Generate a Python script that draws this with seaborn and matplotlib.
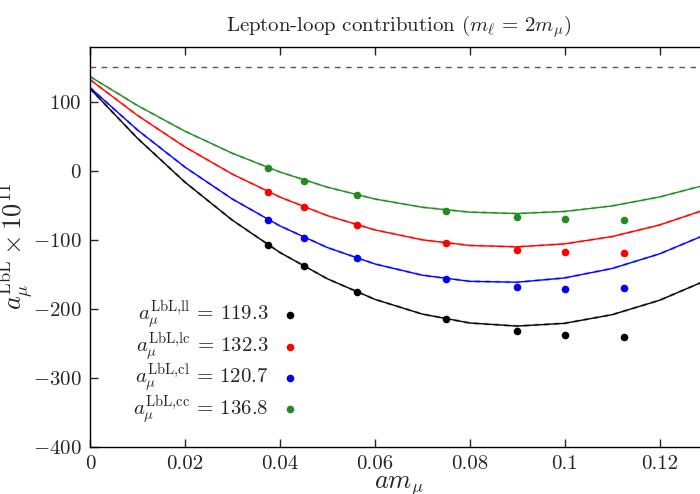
import numpy as np
import pandas as pd
import seaborn as sns
import matplotlib.pyplot as plt

# lattice points (am_mu) and measured a_mu values per kernel
am_points = [0.0375, 0.045, 0.05625, 0.075, 0.09, 0.10, 0.1125]
a_ll = [-107.3, -138.3, -176.0, -215.2, -232.1, -237.9, -240.4]
a_lc = [-30.5, -52.7, -78.3, -104.9, -115.0, -117.9, -118.5]
a_cl = [-71.1, -96.8, -126.7, -156.7, -167.9, -170.7, -170.2]
a_cc = [4.4, -14.1, -35.2, -57.6, -67.2, -70.1, -71.5]

# continuum-extrapolation curves
am_curve = [0.0, 0.01, 0.02, 0.03, 0.04, 0.05, 0.06, 0.07, 0.08, 0.09, 0.10, 0.11, 0.12, 0.13]
fit_ll = [119.3, 47.2, -16.4, -71.6, -118.3, -156.5, -186.3, -207.7, -220.6, -225.1, -221.1, -208.6, -187.7, -158.3]
fit_lc = [132.3, 80.4, 34.7, -4.8, -38.0, -64.9, -85.6, -100.0, -108.2, -110.2, -105.9, -95.3, -78.5, -55.4]
fit_cl = [120.7, 59.3, 5.4, -40.9, -79.8, -111.2, -135.0, -151.3, -160.2, -161.5, -155.3, -141.6, -120.4, -91.7]
fit_cc = [136.8, 94.7, 57.5, 25.4, -1.7, -23.7, -40.8, -52.8, -59.9, -61.9, -58.9, -50.9, -37.9, -19.9]

continuum = [119.3, 132.3, 120.7, 136.8]
kernels = ['ll', 'lc', 'cl', 'cc']
colors = ['black', '#ff0000', '#0000ff', '#228b22']
reference_line = 150


def main():
    sns.set_style('ticks')
    plt.rcParams['font.family'] = 'cmr10'
    plt.rcParams['mathtext.fontset'] = 'cm'
    plt.rcParams['axes.formatter.use_mathtext'] = True
    plt.rcParams['axes.unicode_minus'] = True

    fig = plt.figure(figsize=(7, 4.94), dpi=100)
    ax = fig.add_axes([90 / 700, 47.3 / 494, 617 / 700, 400 / 494])

    points = {'ll': a_ll, 'lc': a_lc, 'cl': a_cl, 'cc': a_cc}
    fits = {'ll': fit_ll, 'lc': fit_lc, 'cl': fit_cl, 'cc': fit_cc}

    ax.axhline(reference_line, color='#555555', lw=1, dashes=(4, 4))

    for k, c, val in zip(kernels, colors, continuum):
        curve = pd.DataFrame({'am': am_curve, 'a': fits[k]})
        sns.lineplot(data=curve, x='am', y='a', color=c, lw=1.0, ax=ax)
        # second (dashed) fit drawn on top, as in the original
        sns.lineplot(data=curve, x='am', y='a', color=c, lw=1.8, alpha=0.35, ax=ax)
        ax.lines[-1].set_dashes((2, 2))
        pts = pd.DataFrame({'am': am_points, 'a': points[k]})
        sns.scatterplot(data=pts, x='am', y='a', color=c, s=30, linewidth=0,
                        ax=ax, label=rf'$a_\mu^{{\rm LbL{{,}}{k}}}$ = {val}')

    ax.set_xlim(0, 0.13)
    ax.set_ylim(-400, 180)
    ax.set_xticks([0, 0.02, 0.04, 0.06, 0.08, 0.1, 0.12])
    ax.set_xticklabels(['0', '0.02', '0.04', '0.06', '0.08', '0.1', '0.12'])
    ax.set_yticks([-400, -300, -200, -100, 0, 100])
    ax.tick_params(direction='in', length=6, width=1, labelsize=15,
                   top=True, right=False, pad=6)
    for s in ax.spines.values():
        s.set_linewidth(1.0)
        s.set_color('black')

    ax.set_xlabel(r'$am_\mu$', fontsize=19, labelpad=1)
    ax.set_ylabel(r'$a_\mu^{\rm LbL} \times 10^{11}$', fontsize=19)
    ax.yaxis.set_label_coords(-0.089, 0.5)
    ax.set_title(r'Lepton-loop contribution $(m_\ell \,=\, 2m_\mu)$', fontsize=15, pad=11)

    ax.legend(loc='lower left', bbox_to_anchor=(0.07, 0.05), frameon=False,
              markerfirst=False, fontsize=15, handletextpad=0.5,
              labelspacing=-0.08, borderaxespad=0, borderpad=0, handlelength=1.0)

    fig.savefig('out.png', dpi=100)
    plt.close(fig)


if __name__ == '__main__':
    main()
